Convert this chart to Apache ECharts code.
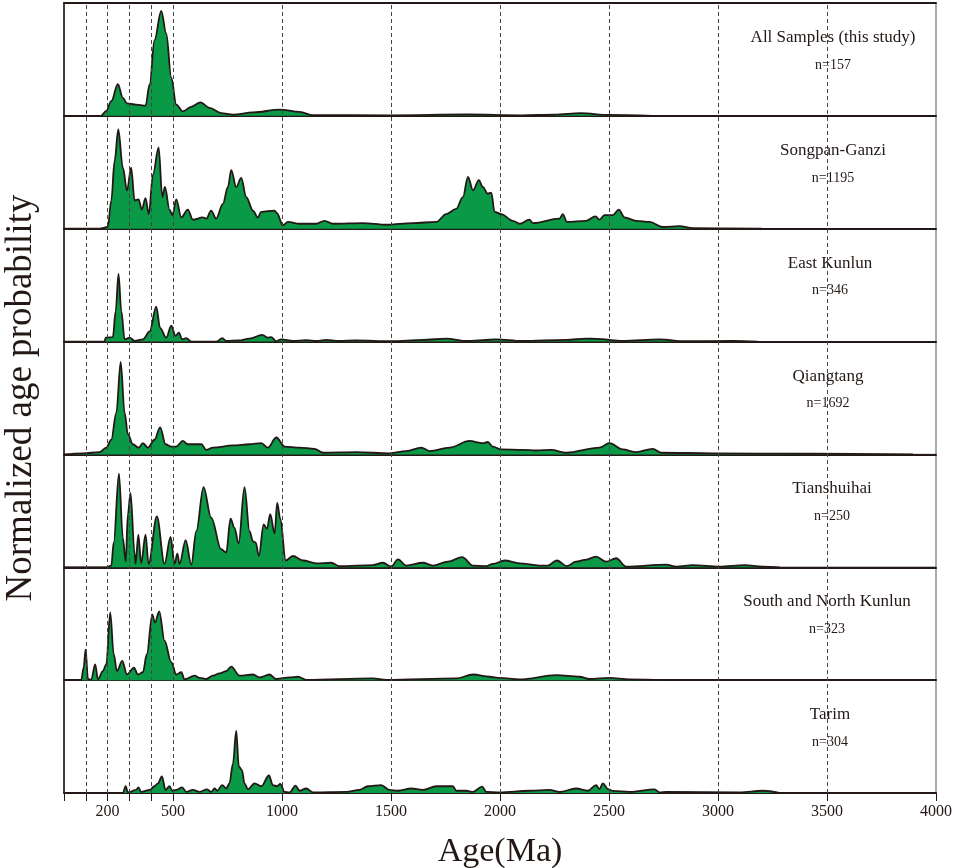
<!DOCTYPE html>
<html>
<head>
<meta charset="utf-8">
<title>Normalized age probability</title>
<script src="https://cdn.jsdelivr.net/npm/echarts@6/dist/echarts.min.js"></script>
<style>
  html, body { margin: 0; padding: 0; background: #fff; }
  #chart { width: 955px; height: 868px; }
</style>
</head>
<body>
<div id="chart"></div>
<script>
// panel labels, top to bottom
const panelNames = ['All Samples (this study)', 'Songpan-Ganzi', 'East Kunlun', 'Qiangtang',
  'Tianshuihai', 'South and North Kunlun', 'Tarim'];
const panelCounts = ['n=157', 'n=1195', 'n=346', 'n=1692', 'n=250', 'n=323', 'n=304'];
const labelX = [828, 828, 825, 823, 827, 822, 825];

// x axis (Ma)
const dashAges = [100, 200, 300, 400, 500, 1000, 1500, 2000, 2500, 3000, 3500];
const tickAges = [0, 100, 200, 300, 400, 500, 1000, 1500, 2000, 2500, 3000, 3500, 4000];
const tickLabels = [200, 500, 1000, 1500, 2000, 2500, 3000, 3500, 4000];

// [age (Ma), relative probability (% of panel height)]
const allSamples = [[0, 0], [170, 0], [194, 4.5], [217, 13], [247, 28], [270, 16], [289, 11], [331, 10],
  [374, 9], [393, 28], [415, 67], [446, 93], [469, 73], [492, 34], [515, 10], [545, 4], [584, 8],
  [626, 12], [668, 7], [721, 2.4], [775, 1], [867, 3], [989, 5.6], [1081, 3.5], [1142, 0.6],
  [1500, 0.5], [1850, 1.2], [2100, 0.5], [2250, 1], [2370, 2.4], [2500, 0.8], [2700, 0]];

const songpanGanzi = [[0, 0], [163, 0], [201, 1.5], [217, 25], [232, 60], [249, 88], [270, 54], [289, 34],
  [308, 54], [324, 25], [342, 26], [357, 17], [374, 27], [389, 13], [408, 48], [434, 72], [451, 28],
  [463, 37], [484, 17], [497, 12], [515, 26], [538, 10], [568, 17], [591, 8], [637, 10], [653, 9],
  [675, 16], [698, 9], [729, 22], [752, 37], [767, 52], [790, 37], [813, 45], [836, 28], [867, 16],
  [889, 10], [905, 15], [966, 16], [976, 14], [1004, 3], [1027, 6], [1081, 4.4], [1157, 4.4],
  [1195, 7], [1234, 4.4], [1371, 5], [1478, 3.5], [1600, 5], [1708, 6], [1753, 13], [1799, 17.6],
  [1830, 28], [1853, 46], [1876, 34], [1903, 43], [1921, 37], [1944, 31], [1960, 32], [1975, 15],
  [2005, 13], [2059, 7], [2090, 4.4], [2135, 8], [2151, 5], [2273, 9], [2288, 13], [2307, 6],
  [2395, 7], [2438, 11], [2456, 8], [2479, 12], [2518, 12], [2545, 17], [2571, 10], [2625, 7],
  [2686, 6], [2747, 1.5], [2823, 2.3], [2885, 0.5], [3200, 0]];

const eastKunlun = [[0, 0], [186, 0], [191, 3.5], [224, 4], [237, 27], [250, 60], [263, 27], [278, 2],
  [301, 3.5], [324, 0.6], [362, 2], [393, 9], [423, 31], [441, 12], [469, 3.5], [492, 14], [512, 5],
  [527, 8], [542, 2], [561, 3], [584, 0], [700, 0], [726, 3], [744, 0.5], [800, 1], [851, 2.6],
  [909, 6], [935, 3.5], [950, 4], [973, 0.3], [996, 2], [1050, 0.5], [1111, 1.2], [1160, 0.5],
  [1203, 1.5], [1260, 0.5], [1341, 1], [1500, 0.3], [1646, 1.5], [1753, 2.6], [1850, 0.5],
  [1921, 1.2], [1982, 2], [2100, 0.5], [2303, 1.5], [2395, 2.6], [2441, 2.4], [2563, 0.6],
  [2731, 2], [2850, 0.3], [3068, 0.6], [3183, 0]];

const qiangtang = [[0, 0], [87, 1], [163, 2], [194, 6], [217, 13], [240, 37], [260, 82], [278, 37],
  [293, 18], [316, 9], [342, 6], [362, 10], [385, 6], [415, 13], [441, 24], [466, 9], [492, 7],
  [515, 7], [545, 12], [568, 9], [607, 9], [630, 9], [653, 4], [683, 6], [775, 8], [851, 9],
  [905, 10], [935, 6], [974, 15], [1012, 7], [1081, 6], [1149, 5], [1188, 1.5], [1341, 2],
  [1494, 1], [1570, 3], [1639, 6], [1677, 3], [1769, 6], [1860, 12], [1921, 10], [1944, 11],
  [1967, 7], [2005, 4.4], [2105, 4], [2166, 3.5], [2235, 4], [2303, 1.5], [2456, 6], [2502, 10],
  [2563, 4.4], [2625, 2], [2701, 5], [2739, 1.5], [2976, 1], [3435, 0.6], [3894, 0]];

const tianshuihai = [[0, 0], [194, 0], [217, 1.5], [228, 22], [252, 83], [270, 26], [283, 5], [293, 47],
  [305, 66], [324, 12], [328, 3], [341, 29], [354, 3.5], [374, 29], [388, 3], [426, 45], [461, 3],
  [489, 27], [507, 3], [520, 12], [530, 3], [558, 24], [584, 2.4], [607, 32], [640, 71], [675, 44],
  [721, 16], [744, 13], [764, 43], [782, 35], [801, 21], [828, 71], [851, 32], [867, 23], [879, 22],
  [894, 10], [916, 38], [931, 34], [946, 47], [966, 30], [978, 57], [992, 43], [1017, 6], [1050, 10],
  [1096, 6], [1157, 3.5], [1226, 4], [1264, 1], [1417, 2], [1463, 4], [1501, 0.6], [1532, 7],
  [1570, 1.5], [1646, 4], [1692, 1.5], [1761, 5], [1827, 9], [1876, 1.5], [1937, 1], [1967, 3],
  [2021, 6], [2090, 3.5], [2181, 1.5], [2219, 1.5], [2261, 6], [2307, 1], [2349, 5], [2388, 6.5],
  [2441, 9.4], [2487, 5], [2533, 8], [2579, 0.6], [2762, 2.4], [2808, 0.6], [2885, 2], [3007, 0.6],
  [3122, 2], [3206, 0.6], [3282, 0]];

const southNorthKunlun = [[0, 0], [79, 0], [90, 11], [99, 27], [110, 1], [125, 0.5], [143, 14], [156, 0.6],
  [178, 8], [194, 14], [212, 60], [228, 23], [243, 8], [267, 17], [289, 5], [321, 11], [339, 5],
  [362, 7], [380, 23], [405, 58], [417, 51], [437, 61], [461, 35], [492, 16], [515, 5], [538, 7],
  [553, 0.6], [599, 4], [622, 2], [653, 1], [683, 4], [714, 6], [744, 8], [767, 12], [805, 4],
  [867, 5], [897, 2.4], [943, 5], [974, 1], [1035, 2.4], [1073, 3], [1111, 0.3], [1417, 1.5],
  [1478, 0.3], [1799, 1.5], [1876, 5], [1952, 3], [1998, 2], [2090, 0.6], [2258, 4.4], [2365, 3],
  [2411, 1], [2502, 2], [2594, 0.6], [2762, 0]];

const tarim = [[0, 0], [270, 0], [283, 6], [293, 0.5], [331, 2.7], [341, 5], [354, 1], [393, 2.7], [415, 6],
  [431, 8.6], [449, 14.6], [466, 2.7], [484, 6], [497, 2], [515, 2.7], [542, 5], [561, 1], [591, 2.7],
  [622, 1], [657, 3.3], [675, 1], [691, 4], [703, 2], [726, 7], [744, 4], [759, 8.6], [775, 26],
  [790, 55], [802, 23.5], [816, 20.5], [828, 8.6], [844, 3.3], [874, 8.6], [905, 6], [940, 15.5],
  [958, 7], [977, 6], [992, 8], [1012, 1], [1035, 0.6], [1062, 6.5], [1081, 2], [1111, 4], [1142, 0.6],
  [1295, 1], [1356, 2.7], [1394, 6], [1455, 7], [1493, 2.7], [1532, 2], [1593, 4], [1646, 2.7],
  [1708, 6], [1784, 6], [1799, 2], [1845, 2], [1876, 1], [1918, 5.6], [1937, 1], [1998, 0.6],
  [2135, 2], [2227, 2.7], [2273, 0.9], [2349, 4], [2403, 2], [2441, 7], [2456, 3.5], [2472, 8.6],
  [2495, 3.5], [2518, 1.8], [2594, 1], [2709, 3.3], [2732, 0.6], [2762, 1], [3099, 0.6], [3206, 2],
  [3282, 0]];

const panels = [allSamples, songpanGanzi, eastKunlun, qiangtang, tianshuihai, southNorthKunlun, tarim];

const ink = '#231815';
const green = '#0a9a47';
const serif = 'Liberation Serif';

const chartDom = document.getElementById('chart');
const myChart = echarts.init(chartDom);

const plotLeft = 64, plotRight = 936, plotTop = 3, plotBottom = 793;
const panelH = (plotBottom - plotTop) / panels.length;
const last = panels.length - 1;

const grids = [], xAxes = [], yAxes = [], series = [], titles = [];

panels.forEach((data, i) => {
  const top = plotTop + i * panelH;
  grids.push({
    left: plotLeft, right: 955 - plotRight, top: top, height: panelH,
    containLabel: false, outerBoundsMode: 'none',
    show: true, borderColor: '#555', borderWidth: 1,
  });
  const isLast = i === last;
  xAxes.push({
    type: 'value', gridIndex: i, min: 0, max: 4000,
    axisLine: { show: true, lineStyle: { color: ink, width: 2 } },
    axisTick: {
      show: isLast, inside: false, length: 8, customValues: tickAges,
      lineStyle: { color: ink, width: 1 },
    },
    axisLabel: {
      show: isLast, customValues: tickLabels, margin: 11,
      formatter: (v) => String(v),
      fontFamily: serif, fontSize: 16, color: ink,
    },
    splitLine: { show: false },
    name: isLast ? 'Age(Ma)' : '',
    nameLocation: 'middle', nameGap: 42,
    nameTextStyle: { fontFamily: serif, fontSize: 34, color: ink },
  });
  yAxes.push({
    type: 'value', gridIndex: i, min: 0, max: 100, show: false,
  });
  series.push({
    type: 'line', xAxisIndex: i, yAxisIndex: i, data: data,
    smooth: 0.35, smoothMonotone: 'x', showSymbol: false, silent: true,
    lineStyle: { color: ink, width: 1.8 },
    areaStyle: { color: green, opacity: 1 },
  });
  titles.push({
    text: panelNames[i], subtext: panelCounts[i],
    left: labelX[i], top: top + 21, textAlign: 'center', itemGap: 12,
    textStyle: { fontFamily: serif, fontSize: 17, fontWeight: 'normal', color: ink },
    subtextStyle: { fontFamily: serif, fontSize: 14, color: ink },
  });
});

// overlay grid spanning all panels: frame, y title and dashed age lines
const ov = panels.length;
grids.push({
  left: plotLeft, right: 955 - plotRight, top: plotTop, height: plotBottom - plotTop,
  containLabel: false, outerBoundsMode: 'none',
});
xAxes.push({
  type: 'value', gridIndex: ov, min: 0, max: 4000, position: 'top',
  axisLine: { show: true, onZero: false, lineStyle: { color: ink, width: 2 } },
  axisTick: { show: false }, axisLabel: { show: false }, splitLine: { show: false },
});
yAxes.push({
  type: 'value', gridIndex: ov, min: 0, max: 1,
  axisLine: { show: true, onZero: false, lineStyle: { color: ink, width: 1.5 } },
  axisTick: { show: false }, axisLabel: { show: false }, splitLine: { show: false },
  name: 'Normalized age probability', nameLocation: 'middle', nameGap: 24,
  nameTextStyle: { fontFamily: serif, fontSize: 37, color: ink },
});
series.push({
  type: 'line', xAxisIndex: ov, yAxisIndex: ov, data: [], z: 10, silent: true,
  markLine: {
    silent: true, symbol: ['none', 'none'], label: { show: false },
    lineStyle: { color: '#444', type: [4, 3], width: 1 },
    data: dashAges.map((a) => ({ xAxis: a })),
  },
});

const option = {
  animation: false,
  backgroundColor: '#fff',
  title: titles,
  grid: grids,
  xAxis: xAxes,
  yAxis: yAxes,
  series: series,
};

myChart.setOption(option);
window.addEventListener('resize', () => myChart.resize());
</script>
</body>
</html>
